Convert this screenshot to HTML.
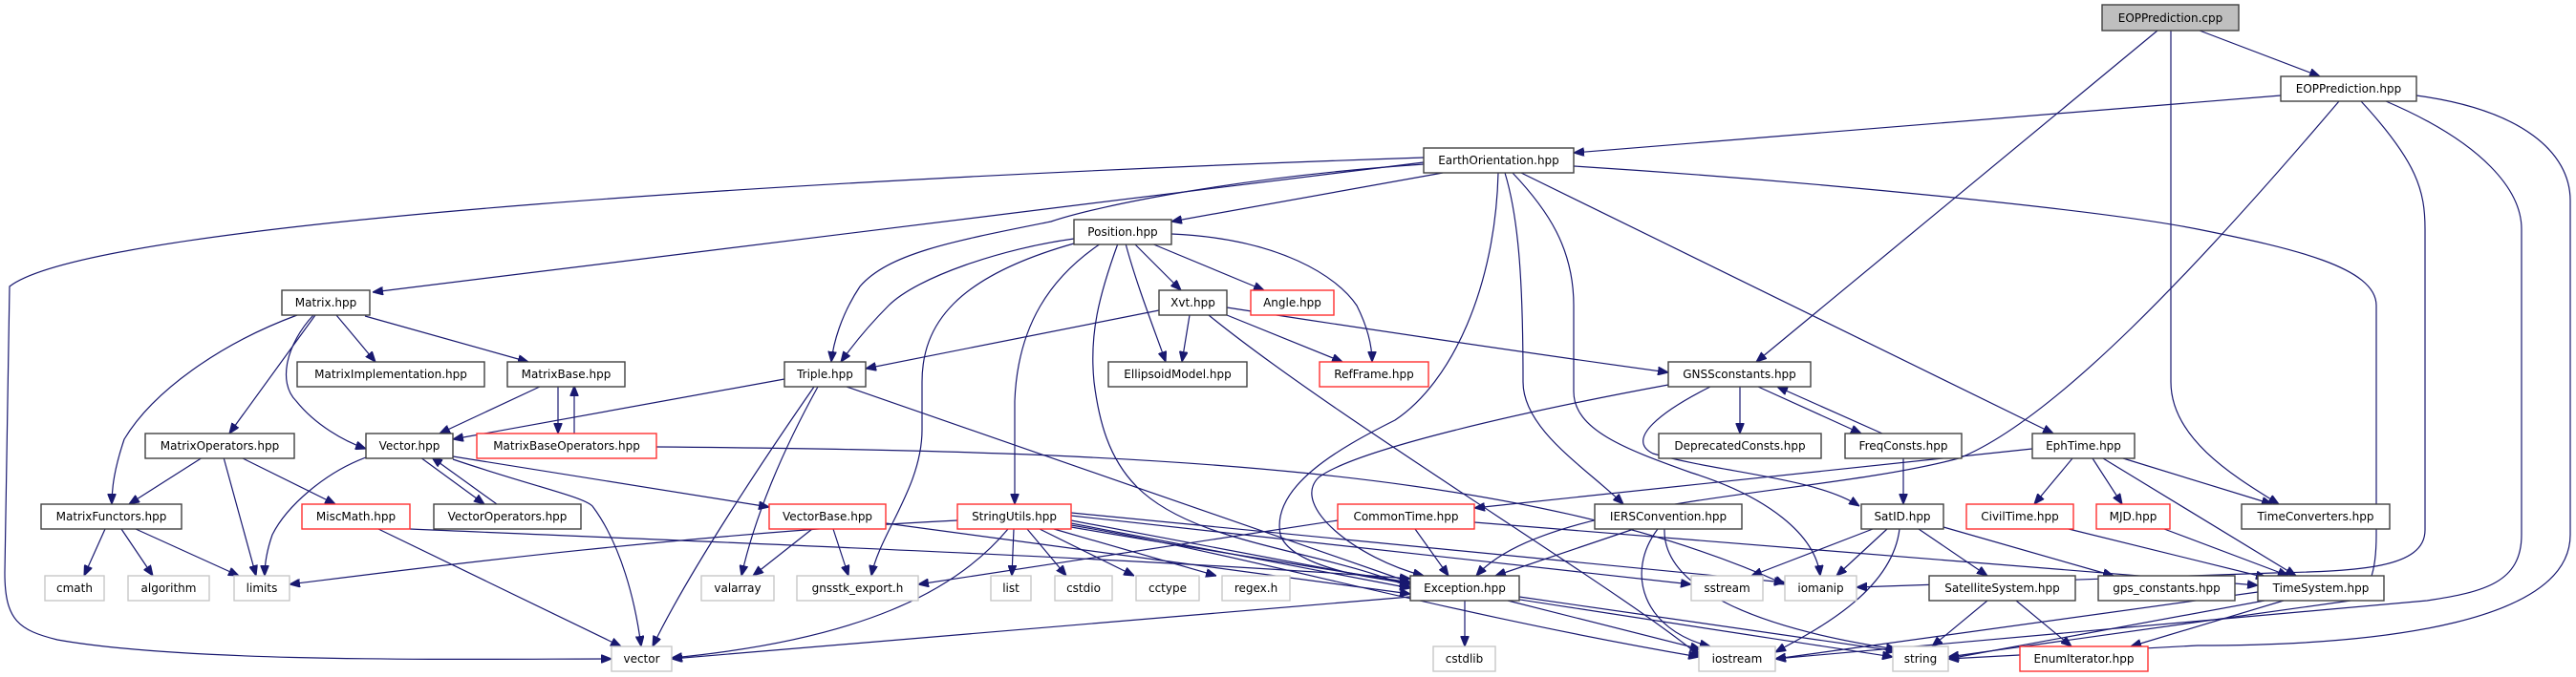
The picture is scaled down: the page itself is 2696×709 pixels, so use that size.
<!DOCTYPE html>
<html><head><meta charset="utf-8">
<style>
html,body{margin:0;padding:0;background:#fff;}
svg{display:block;}
text{font-family:"DejaVu Sans","Liberation Sans",sans-serif;font-size:12px;fill:#000;}
.e{fill:none;stroke:#191970;stroke-width:1.2;}
.n{fill:#fff;stroke:#404040;stroke-width:1.4;}
.r{fill:#fff;stroke:#ff3030;stroke-width:1.4;}
.g{fill:#fff;stroke:#c8c8c8;stroke-width:1.4;}
.c{fill:#bfbfbf;stroke:#404040;stroke-width:1.4;}
</style></head><body>
<svg width="2696" height="709" viewBox="0 0 2696 709" xmlns="http://www.w3.org/2000/svg">
<defs>
<marker id="a" viewBox="0 0 10 8" refX="10" refY="4" markerWidth="11" markerHeight="9" markerUnits="userSpaceOnUse" orient="auto">
<path d="M0,0 L10,4 L0,8 z" fill="#191970" stroke="#191970"/>
</marker>
</defs>
<g class="e" marker-end="url(#a)">
<path d="M2302,32 L2428,80"/>
<path d="M2258,32 L1838,379"/>
<path d="M2272,32 L2272,400 C2272,460 2340,500 2385,528"/>
<path d="M2387,100 L1647,160"/>
<path d="M2448,106 C2300,280 2150,440 2050,480 C1900,520 1620,520 1545,603"/>
<path d="M2471,106 C2530,170 2538,200 2538,240 L2538,555 C2538,595 2470,598 2380,600 L1943,615"/>
<path d="M2497,106 C2600,150 2639,200 2639,240 L2639,560 C2639,610 2600,620 2540,629 L1858,690"/>
<path d="M2529,100 C2640,115 2690,160 2690,210 L2690,560 C2690,650 2500,676 2300,676 L2039,690"/>
<path d="M1647,174 C1900,190 2200,220 2300,240 C2400,260 2487,280 2487,320 L2487,560 C2487,600 2480,620 2460,629 L2039,688"/>
<path d="M1592,181 L2149,454"/>
<path d="M1575,181 C1590,230 1594,300 1594,400 C1594,450 1660,490 1699,528"/>
<path d="M1583,181 C1620,220 1647,260 1647,320 L1647,410 C1647,450 1700,470 1770,495 C1850,520 1900,560 1905,603"/>
<path d="M1790,405 C1740,430 1700,460 1730,475 C1800,495 1900,500 1946,530"/>
<path d="M1568,181 C1565,300 1520,400 1460,440 C1400,470 1330,510 1340,560 C1350,590 1420,605 1476,610"/>
<path d="M1510,181 L1226,232"/>
<path d="M1490,170 L390,306"/>
<path d="M1490,165 C900,185 100,230 10,300 L5,600 C5,650 20,660 60,670 C200,695 500,690 640,690"/>
<path d="M1490,172 C1300,185 1150,215 1100,232 C1000,252 930,265 900,300 C880,330 872,360 870,379"/>
<path d="M1124,250 C1050,260 960,290 930,320 C905,345 890,365 880,379"/>
<path d="M1124,255 C1000,290 965,340 965,400 L965,450 C965,510 920,560 912,603"/>
<path d="M1152,255 C1100,290 1065,340 1062,420 L1062,528"/>
<path d="M1170,255 C1150,310 1140,350 1145,400 C1150,440 1160,480 1190,510 C1250,570 1380,575 1476,615"/>
<path d="M1178,255 C1190,300 1210,350 1220,379"/>
<path d="M1187,255 L1236,304"/>
<path d="M1205,255 L1323,304"/>
<path d="M1226,245 C1340,250 1400,290 1420,320 C1430,340 1436,360 1436,379"/>
<path d="M1213,325 L906,386"/>
<path d="M1245,330 L1237,379"/>
<path d="M1284,330 L1405,379"/>
<path d="M1284,322 C1400,340 1600,370 1746,390"/>
<path d="M1265,330 C1400,440 1700,620 1780,688"/>
<path d="M821,397 L474,460"/>
<path d="M856,405 C820,470 790,540 776,603"/>
<path d="M852,405 C800,480 720,600 683,677"/>
<path d="M886,405 L1476,610"/>
<path d="M311,330 C230,360 160,410 130,460 C120,490 117,510 117,528"/>
<path d="M330,330 L240,454"/>
<path d="M328,330 C300,360 290,400 310,420 C330,445 360,462 383,470"/>
<path d="M352,330 L393,379"/>
<path d="M382,331 L553,379"/>
<path d="M567,404 L460,454"/>
<path d="M584,404 L584,454"/>
<path d="M601,454 L601,404"/>
<path d="M687,468 C1200,472 1600,490 1868,612"/>
<path d="M212,479 L135,528"/>
<path d="M234,479 L268,603"/>
<path d="M252,479 L351,528"/>
<path d="M383,479 C340,495 300,530 285,560 C278,580 277,595 277,603"/>
<path d="M440,479 L507,528"/>
<path d="M520,528 L452,479"/>
<path d="M474,481 C560,510 610,520 620,530 C650,570 665,630 671,677"/>
<path d="M474,478 L805,531"/>
<path d="M110,554 L88,603"/>
<path d="M127,554 L160,603"/>
<path d="M142,554 L250,603"/>
<path d="M396,554 L650,677"/>
<path d="M429,554 C800,570 1200,585 1476,606"/>
<path d="M1002,545 C700,560 400,600 303,612"/>
<path d="M850,554 L788,603"/>
<path d="M872,554 L888,603"/>
<path d="M927,548 L1476,622"/>
<path d="M1061,554 L1059,603"/>
<path d="M1075,554 L1116,603"/>
<path d="M1088,554 L1187,603"/>
<path d="M1103,554 L1273,603"/>
<path d="M1055,554 C1000,620 900,670 703,689"/>
<path d="M1121,545 L1476,612"/>
<path d="M1121,548 L1476,616"/>
<path d="M1121,550 C1300,580 1500,640 1778,688"/>
<path d="M1121,552 C1400,600 1800,660 1981,688"/>
<path d="M1121,540 L1770,612"/>
<path d="M1121,537 L1868,610"/>
<path d="M1400,545 L961,612"/>
<path d="M1481,554 L1516,603"/>
<path d="M1543,547 L2363,613"/>
<path d="M2127,470 L1543,532"/>
<path d="M2169,480 L2129,528"/>
<path d="M2190,480 L2221,528"/>
<path d="M2201,480 L2403,603"/>
<path d="M2222,480 L2378,528"/>
<path d="M2165,554 L2372,605"/>
<path d="M2265,554 L2395,603"/>
<path d="M1710,554 L1565,603"/>
<path d="M1735,554 C1700,600 1720,660 1790,677"/>
<path d="M1742,554 C1740,620 1850,660 1985,680"/>
<path d="M1960,554 L1833,603"/>
<path d="M1975,554 L1922,603"/>
<path d="M1988,554 C1980,620 1900,660 1858,683"/>
<path d="M2008,554 L2080,603"/>
<path d="M2034,552 L2212,603"/>
<path d="M1746,403 C1600,430 1420,470 1380,500 C1350,530 1420,585 1490,603"/>
<path d="M1821,405 L1821,454"/>
<path d="M1840,405 L1948,454"/>
<path d="M1970,454 L1860,405"/>
<path d="M1992,480 L1992,528"/>
<path d="M1476,625 L703,690"/>
<path d="M1533,629 L1533,677"/>
<path d="M1578,629 L1780,680"/>
<path d="M1590,625 L1985,682"/>
<path d="M2080,629 L2022,677"/>
<path d="M2110,629 L2168,677"/>
<path d="M2363,620 L1858,690"/>
<path d="M2370,629 L2039,690"/>
<path d="M2390,629 L2230,677"/>
</g>
<g text-anchor="middle">
<rect class="c" x="2200" y="5" width="143" height="27"/><text x="2271.5" y="23">EOPPrediction.cpp</text>
<rect class="n" x="2387" y="80" width="142" height="26"/><text x="2458" y="97">EOPPrediction.hpp</text>
<rect class="n" x="1490" y="155" width="157" height="26"/><text x="1568.5" y="172">EarthOrientation.hpp</text>
<rect class="n" x="1124" y="230" width="102" height="26"/><text x="1175" y="247">Position.hpp</text>
<rect class="n" x="295" y="304" width="92" height="26"/><text x="341" y="321">Matrix.hpp</text>
<rect class="n" x="1213" y="304" width="71" height="26"/><text x="1248.5" y="321">Xvt.hpp</text>
<rect class="r" x="1309" y="304" width="87" height="26"/><text x="1352.5" y="321">Angle.hpp</text>
<rect class="n" x="311" y="379" width="196" height="26"/><text x="409" y="396">MatrixImplementation.hpp</text>
<rect class="n" x="531" y="379" width="123" height="26"/><text x="592.5" y="396">MatrixBase.hpp</text>
<rect class="n" x="821" y="379" width="85" height="26"/><text x="863.5" y="396">Triple.hpp</text>
<rect class="n" x="1160" y="379" width="145" height="26"/><text x="1232.5" y="396">EllipsoidModel.hpp</text>
<rect class="r" x="1381" y="379" width="114" height="26"/><text x="1438" y="396">RefFrame.hpp</text>
<rect class="n" x="1746" y="379" width="149" height="26"/><text x="1820.5" y="396">GNSSconstants.hpp</text>
<rect class="n" x="152" y="454" width="156" height="26"/><text x="230" y="471">MatrixOperators.hpp</text>
<rect class="n" x="383" y="454" width="91" height="26"/><text x="428.5" y="471">Vector.hpp</text>
<rect class="r" x="499" y="454" width="188" height="26"/><text x="593" y="471">MatrixBaseOperators.hpp</text>
<rect class="n" x="1736" y="454" width="170" height="26"/><text x="1821" y="471">DeprecatedConsts.hpp</text>
<rect class="n" x="1931" y="454" width="122" height="26"/><text x="1992" y="471">FreqConsts.hpp</text>
<rect class="n" x="2127" y="454" width="107" height="26"/><text x="2180.5" y="471">EphTime.hpp</text>
<rect class="n" x="43" y="528" width="147" height="26"/><text x="116.5" y="545">MatrixFunctors.hpp</text>
<rect class="r" x="316" y="528" width="113" height="26"/><text x="372.5" y="545">MiscMath.hpp</text>
<rect class="n" x="454" y="528" width="154" height="26"/><text x="531" y="545">VectorOperators.hpp</text>
<rect class="r" x="805" y="528" width="122" height="26"/><text x="866" y="545">VectorBase.hpp</text>
<rect class="r" x="1002" y="528" width="119" height="26"/><text x="1061.5" y="545">StringUtils.hpp</text>
<rect class="r" x="1400" y="528" width="143" height="26"/><text x="1471.5" y="545">CommonTime.hpp</text>
<rect class="n" x="1669" y="528" width="154" height="26"/><text x="1746" y="545">IERSConvention.hpp</text>
<rect class="n" x="1948" y="528" width="86" height="26"/><text x="1991" y="545">SatID.hpp</text>
<rect class="r" x="2058" y="528" width="112" height="26"/><text x="2114" y="545">CivilTime.hpp</text>
<rect class="r" x="2194" y="528" width="77" height="26"/><text x="2232.5" y="545">MJD.hpp</text>
<rect class="n" x="2346" y="528" width="155" height="26"/><text x="2423.5" y="545">TimeConverters.hpp</text>
<rect class="g" x="47" y="603" width="62" height="26"/><text x="78" y="620">cmath</text>
<rect class="g" x="134" y="603" width="85" height="26"/><text x="176.5" y="620">algorithm</text>
<rect class="g" x="245" y="603" width="58" height="26"/><text x="274" y="620">limits</text>
<rect class="g" x="734" y="603" width="76" height="26"/><text x="772" y="620">valarray</text>
<rect class="g" x="834" y="603" width="127" height="26"/><text x="897.5" y="620">gnsstk_export.h</text>
<rect class="g" x="1037" y="603" width="42" height="26"/><text x="1058" y="620">list</text>
<rect class="g" x="1104" y="603" width="60" height="26"/><text x="1134" y="620">cstdio</text>
<rect class="g" x="1189" y="603" width="66" height="26"/><text x="1222" y="620">cctype</text>
<rect class="g" x="1279" y="603" width="71" height="26"/><text x="1314.5" y="620">regex.h</text>
<rect class="n" x="1476" y="603" width="114" height="26"/><text x="1533" y="620">Exception.hpp</text>
<rect class="g" x="1770" y="603" width="75" height="26"/><text x="1807.5" y="620">sstream</text>
<rect class="g" x="1868" y="603" width="75" height="26"/><text x="1905.5" y="620">iomanip</text>
<rect class="n" x="2019" y="603" width="153" height="26"/><text x="2095.5" y="620">SatelliteSystem.hpp</text>
<rect class="n" x="2196" y="603" width="143" height="26"/><text x="2267.5" y="620">gps_constants.hpp</text>
<rect class="n" x="2363" y="603" width="132" height="26"/><text x="2429" y="620">TimeSystem.hpp</text>
<rect class="g" x="640" y="677" width="63" height="26"/><text x="671.5" y="694">vector</text>
<rect class="g" x="1500" y="677" width="65" height="26"/><text x="1532.5" y="694">cstdlib</text>
<rect class="g" x="1778" y="677" width="80" height="26"/><text x="1818" y="694">iostream</text>
<rect class="g" x="1981" y="677" width="58" height="26"/><text x="2010" y="694">string</text>
<rect class="r" x="2114" y="677" width="134" height="26"/><text x="2181" y="694">EnumIterator.hpp</text>
</g>
</svg>
</body></html>
